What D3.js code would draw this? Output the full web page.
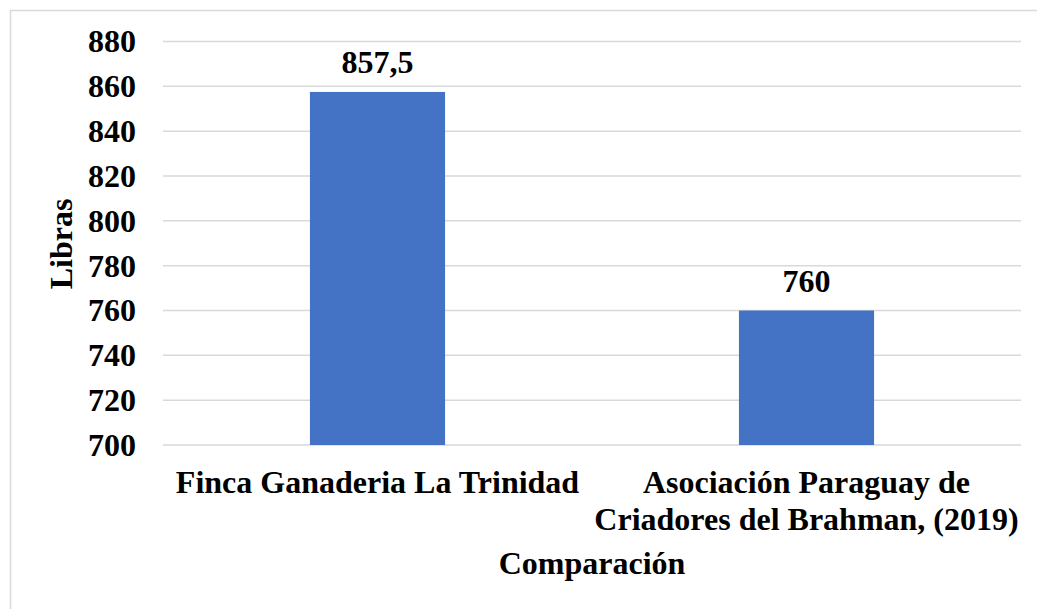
<!DOCTYPE html>
<html lang="es">
  <head>
    <title>Libras</title>
    <meta charset="utf-8">
    <style>
      body { margin: 0; background: #fff; }
      text { font-family: "Liberation Serif", "Times New Roman", serif; font-weight: bold; fill: #000; }
    </style>
  </head>
  <body>
<svg width="1037" height="609"></svg>
<script src="https://d3js.org/d3.v7.min.js"></script>
<script>

// data
var categories = [["Finca Ganaderia La Trinidad"], ["Asociación Paraguay de", "Criadores del Brahman, (2019)"]];
var values = [857.5, 760];
var valueLabels = ["857,5", "760"];
var yTicks = [700, 720, 740, 760, 780, 800, 820, 840, 860, 880];

var svg = d3.select("svg"),
    width = +svg.attr("width"),
    height = +svg.attr("height");

var fs = 32; // font size used all over

// outer frame, cut off at right/bottom like the original
svg.append("rect")
    .attr("x", 10.5).attr("y", 10.5)
    .attr("width", width + 20).attr("height", height + 20)
    .attr("fill", "none").attr("stroke", "#d9d9d9").attr("stroke-width", 1.5);

var plotL = 163, plotR = 1021, plotT = 41.5, plotB = 445;

var x = d3.scaleBand()
    .domain(d3.range(values.length))
    .range([plotL, plotR])
    .padding(0);

var y = d3.scaleLinear()
    .domain([700, 880])
    .range([plotB, plotT]);

var barW = x.bandwidth() * 0.315;

// gridlines
svg.append("g").selectAll("line")
    .data(yTicks)
  .enter().append("line")
    .attr("x1", plotL).attr("x2", plotR)
    .attr("y1", function(d) { return y(d); })
    .attr("y2", function(d) { return y(d); })
    .attr("stroke", "#d9d9d9").attr("stroke-width", 1.5);

// tick labels
svg.append("g").selectAll("text")
    .data(yTicks)
  .enter().append("text")
    .attr("x", 136)
    .attr("y", function(d) { return y(d); })
    .attr("dy", "0.34em")
    .attr("text-anchor", "end")
    .style("font-size", fs + "px")
    .text(function(d) { return d; });

// bars
svg.append("g").selectAll("rect")
    .data(values)
  .enter().append("rect")
    .attr("x", function(d, i) { return x(i) + (x.bandwidth() - barW) / 2; })
    .attr("y", function(d) { return y(d); })
    .attr("width", barW)
    .attr("height", function(d) { return plotB - y(d); })
    .attr("fill", "#4472c4");

// value labels
svg.append("g").selectAll("text")
    .data(values)
  .enter().append("text")
    .attr("x", function(d, i) { return x(i) + x.bandwidth() / 2; })
    .attr("y", function(d) { return y(d) - 19; })
    .attr("text-anchor", "middle")
    .style("font-size", fs + "px")
    .text(function(d, i) { return valueLabels[i]; });

// category labels
var cat = svg.append("g").selectAll("text")
    .data(categories)
  .enter().append("text")
    .attr("x", function(d, i) { return x(i) + x.bandwidth() / 2; })
    .attr("y", 493)
    .attr("text-anchor", "middle")
    .style("font-size", fs + "px");
cat.selectAll("tspan")
    .data(function(d) { return d; })
  .enter().append("tspan")
    .attr("x", function() { return this.parentNode.getAttribute("x"); })
    .attr("dy", function(d, i) { return i ? 37 : 0; })
    .text(function(d) { return d; });

// axis titles
svg.append("text")
    .attr("x", (plotL + plotR) / 2)
    .attr("y", 574)
    .attr("text-anchor", "middle")
    .style("font-size", fs + "px")
    .text("Comparación");

svg.append("text")
    .attr("transform", "translate(72,244) rotate(-90)")
    .attr("text-anchor", "middle")
    .style("font-size", fs + "px")
    .text("Libras");

</script>
  </body>
</html>
